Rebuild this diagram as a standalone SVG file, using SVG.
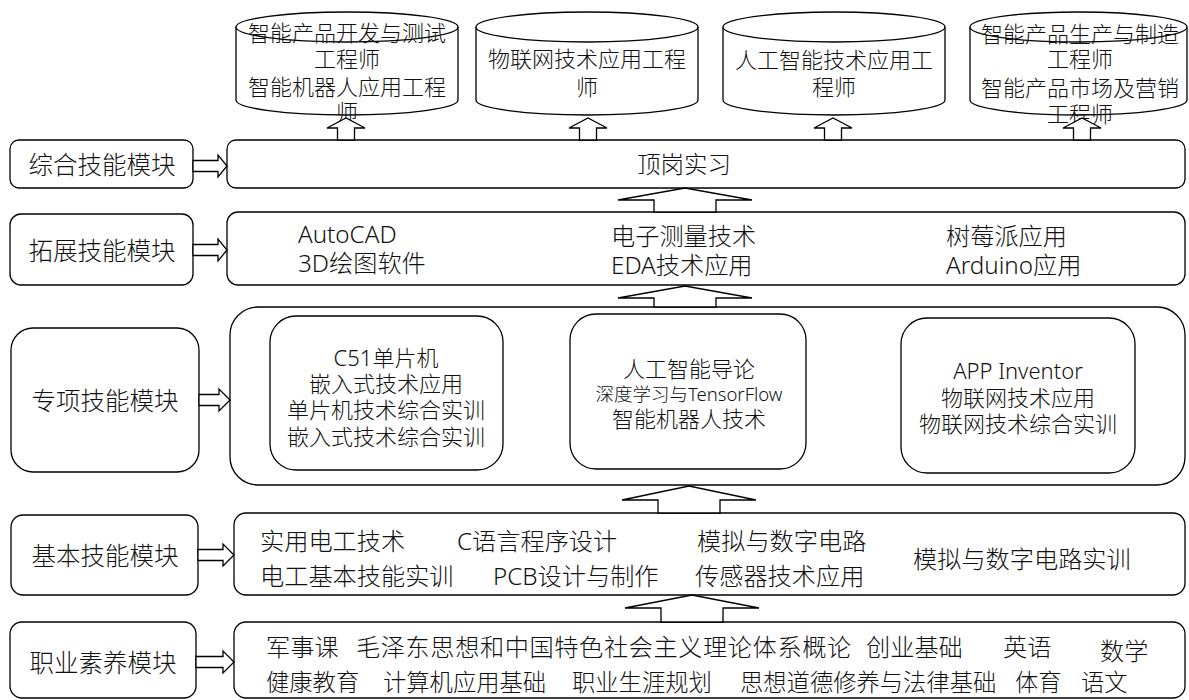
<svg xmlns="http://www.w3.org/2000/svg" width="1189" height="700" viewBox="0 0 1189 700">
<style>
.bx{fill:#fff;stroke:#000;stroke-width:1.3}
.ar{fill:#fff;stroke:#000;stroke-width:1.3;stroke-linejoin:miter}
text{font-family:"Noto Sans","Noto Sans CJK SC",sans-serif;fill:#111;dominant-baseline:central;font-weight:300}
.lb{font-size:24.5px;text-anchor:middle}
.t{font-size:24.2px}
.t2{font-size:23.3px}
.c{font-size:22px;text-anchor:middle}
.cy{font-size:22px;text-anchor:middle}
</style>
<rect width="1189" height="700" fill="#fff"/>

<g id="cyl1">
<path class="bx" d="M236,27 A111,15 0 0 1 458,27 V100 A111,15 0 0 1 236,100 Z"/>
<path class="bx" fill="none" d="M236,27 A111,15 0 0 0 458,27"/>
<text class="cy" x="347" y="32">智能产品开发与测试</text>
<text class="cy" x="347" y="58">工程师</text>
<text class="cy" x="347" y="86">智能机器人应用工程</text>
<text class="cy" x="347" y="111">师</text>
</g>
<g id="cyl2">
<path class="bx" d="M476,27 A111,15 0 0 1 698,27 V100 A111,15 0 0 1 476,100 Z"/>
<path class="bx" fill="none" d="M476,27 A111,15 0 0 0 698,27"/>
<text class="cy" x="587" y="58">物联网技术应用工程</text>
<text class="cy" x="587" y="86">师</text>
</g>
<g id="cyl3">
<path class="bx" d="M723,27 A111,15 0 0 1 945,27 V100 A111,15 0 0 1 723,100 Z"/>
<path class="bx" fill="none" d="M723,27 A111,15 0 0 0 945,27"/>
<text class="cy" x="834" y="59">人工智能技术应用工</text>
<text class="cy" x="834" y="86">程师</text>
</g>
<g id="cyl4">
<path class="bx" d="M970,27 A108.5,15 0 0 1 1187,27 V100 A108.5,15 0 0 1 970,100 Z"/>
<path class="bx" fill="none" d="M970,27 A108.5,15 0 0 0 1187,27"/>
<text class="cy" x="1080" y="33">智能产品生产与制造</text>
<text class="cy" x="1080" y="58">工程师</text>
<text class="cy" x="1080" y="87">智能产品市场及营销</text>
<text class="cy" x="1080" y="113">工程师</text>
</g>

<g id="zonghe">
<rect class="bx" x="10" y="140" width="183" height="48" rx="9"/>
<text class="lb" x="102" y="164">综合技能模块</text>
</g>
<g id="dinggang">
<rect class="bx" x="227" y="140" width="958" height="48" rx="9"/>
<text class="c" x="684" y="164" style="font-size:23.5px">顶岗实习</text>
</g>

<g id="tuozhan">
<rect class="bx" x="10" y="214" width="183" height="71" rx="11"/>
<text class="lb" x="102" y="250">拓展技能模块</text>
</g>
<g id="tuozhan-courses">
<rect class="bx" x="227" y="212" width="958" height="73" rx="11"/>
<text class="t" x="298" y="233">AutoCAD</text>
<text class="t" x="298" y="262">3D绘图软件</text>
<text class="t" x="611" y="235">电子测量技术</text>
<text class="t" x="611" y="264">EDA技术应用</text>
<text class="t" x="946" y="235">树莓派应用</text>
<text class="t" x="946" y="264">Arduino应用</text>
</g>

<g id="zhuanxiang">
<rect class="bx" x="11" y="328" width="188" height="144" rx="22"/>
<text class="lb" x="105" y="400">专项技能模块</text>
</g>
<g id="zhuanxiang-courses">
<rect class="bx" x="230" y="307" width="955" height="178" rx="28"/>
</g>
<g id="zx-embedded">
<rect class="bx" x="270" y="316" width="233" height="154" rx="26"/>
<text class="c" x="386" y="357">C51单片机</text>
<text class="c" x="386" y="383">嵌入式技术应用</text>
<text class="c" x="386" y="409">单片机技术综合实训</text>
<text class="c" x="386" y="436">嵌入式技术综合实训</text>
</g>
<g id="zx-ai">
<rect class="bx" x="570" y="314" width="236" height="155" rx="26"/>
<text class="c" x="689" y="368">人工智能导论</text>
<text class="c" x="689" y="393" style="font-size:18.5px">深度学习与TensorFlow</text>
<text class="c" x="689" y="418">智能机器人技术</text>
</g>
<g id="zx-iot">
<rect class="bx" x="901" y="318" width="234" height="155" rx="26"/>
<text class="c" x="1018" y="370">APP Inventor</text>
<text class="c" x="1018" y="397">物联网技术应用</text>
<text class="c" x="1018" y="423">物联网技术综合实训</text>
</g>

<g id="jiben">
<rect class="bx" x="11" y="515" width="187" height="80" rx="12"/>
<text class="lb" x="105" y="555">基本技能模块</text>
</g>
<g id="jiben-courses">
<rect class="bx" x="234" y="513" width="951" height="82" rx="12"/>
<text class="t" x="260" y="540">实用电工技术</text>
<text class="t" x="457" y="540">C语言程序设计</text>
<text class="t" x="697" y="540">模拟与数字电路</text>
<text class="t" x="260" y="575">电工基本技能实训</text>
<text class="t" x="493" y="575">PCB设计与制作</text>
<text class="t" x="695" y="575">传感器技术应用</text>
<text class="t" x="913" y="558">模拟与数字电路实训</text>
</g>

<g id="zhiye">
<rect class="bx" x="10" y="622" width="186" height="76" rx="12"/>
<text class="lb" x="103" y="662">职业素养模块</text>
</g>
<g id="zhiye-courses">
<rect class="bx" x="234" y="622" width="951" height="76" rx="12"/>
<text class="t" x="266" y="646">军事课</text>
<text class="t" x="356" y="646" style="letter-spacing:0.6px">毛泽东思想和中国特色社会主义理论体系概论</text>
<text class="t" x="866" y="646">创业基础</text>
<text class="t" x="1003" y="646">英语</text>
<text class="t" x="1100" y="650">数学</text>
<text class="t2" x="266" y="682">健康教育</text>
<text class="t2" x="383" y="682">计算机应用基础</text>
<text class="t2" x="572" y="682">职业生涯规划</text>
<text class="t2" x="740" y="682">思想道德修养与法律基础</text>
<text class="t2" x="1015" y="682">体育</text>
<text class="t2" x="1081" y="682">语文</text>
</g>

<g id="connectors">
<polygon class="ar" points="337.5,140 337.5,128 327,128 346,118 365,128 354.5,128 354.5,140"/>
<polygon class="ar" points="579.5,140 579.5,128 569,128 588,118 607,128 596.5,128 596.5,140"/>
<polygon class="ar" points="824.5,140 824.5,128 814,128 833,118 852,128 841.5,128 841.5,140"/>
<polygon class="ar" points="1073.5,140 1073.5,128 1063,128 1082,118 1101,128 1090.5,128 1090.5,140"/>

<polygon class="ar" points="654,212 654,200 618,200 685,188 752,200 716,200 716,212"/>
<polygon class="ar" points="654,307 654,298 618,298 685,286 752,298 716,298 716,307"/>
<polygon class="ar" points="658,513 658,500 622,500 689,486 756,500 720,500 720,513"/>
<polygon class="ar" points="661,622 661,608 625,608 692,595 759,608 723,608 723,622"/>

<polygon class="ar" points="193,160.5 218,160.5 218,155 227,166 218,177 218,171.5 193,171.5"/>
<polygon class="ar" points="193,244.5 218,244.5 218,239 227,250 218,261 218,255.5 193,255.5"/>
<polygon class="ar" points="199,394.5 219,394.5 219,389 230,400 219,411 219,405.5 199,405.5"/>
<polygon class="ar" points="198,549.5 223,549.5 223,544 234,555 223,566 223,560.5 198,560.5"/>
<polygon class="ar" points="196,656.5 223,656.5 223,651 234,662 223,673 223,667.5 196,667.5"/>
</g>
</svg>
